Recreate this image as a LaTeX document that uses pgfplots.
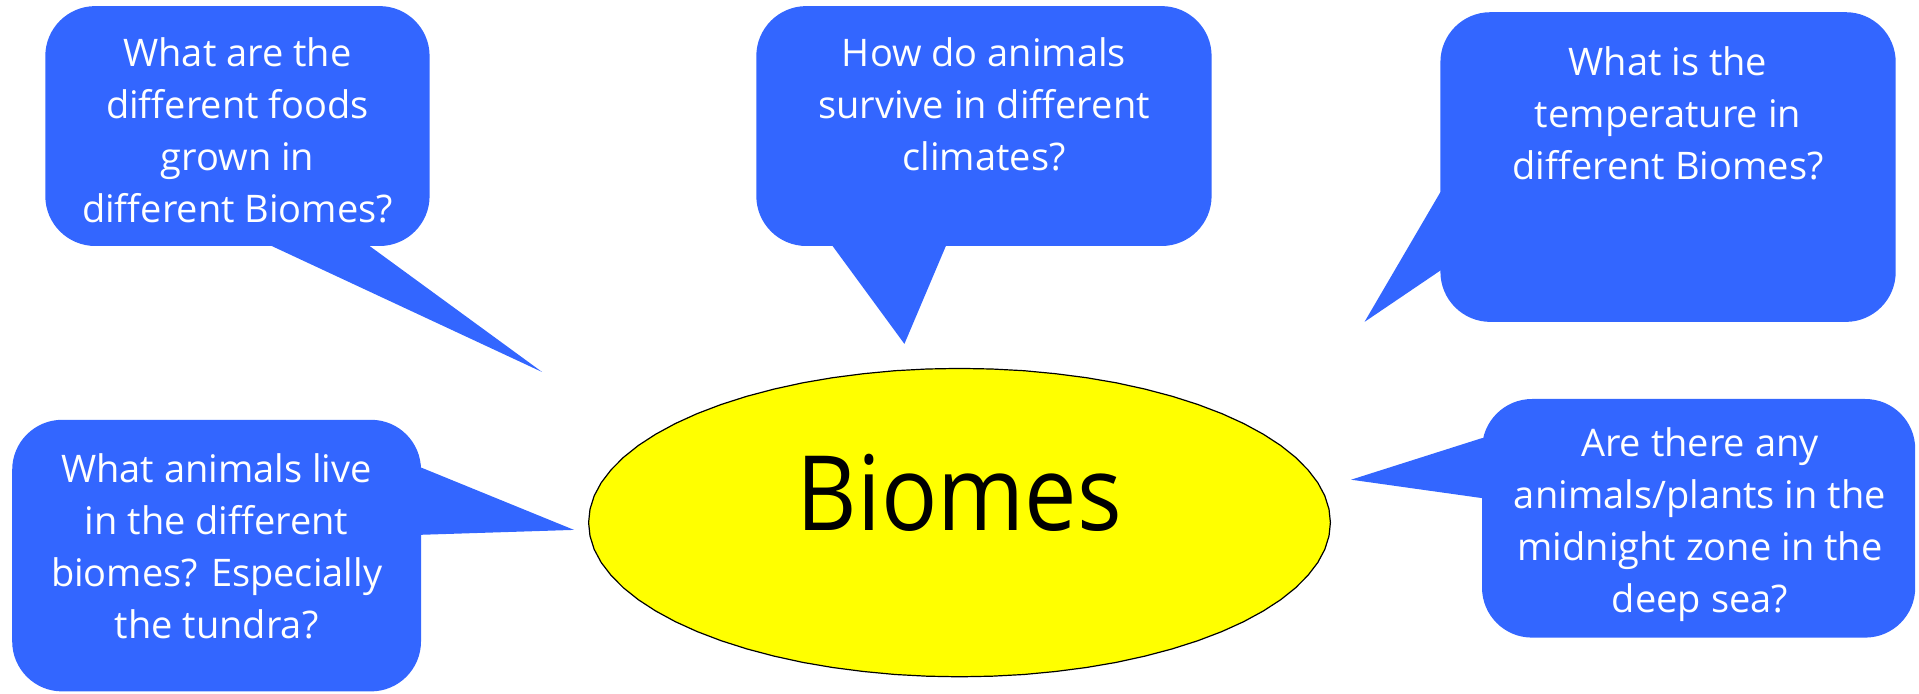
\documentclass[border=0pt]{standalone}
\usepackage{pgfplots}
\pgfplotsset{compat=1.18}
\usepackage{fontspec}
\setmainfont{Open Sans}
\definecolor{bub}{HTML}{3366FF}
\definecolor{ell}{HTML}{FFFF00}
\begin{document}
\begin{tikzpicture}
\begin{axis}[scale only axis, width=959.5pt, height=347pt,
  xmin=0, xmax=1919, ymin=0, ymax=694, y dir=reverse, hide axis, clip=false]
% invisible frame to fix the bounding box
\addplot[draw=none, no markers] coordinates {(0,0) (1919,0) (1919,694) (0,694)} -- cycle;
% bubble 1 top-left
\addplot[draw=none, fill=bub, no markers, rounded corners=25pt] coordinates {(237,6.1) (429.6,6.1) (429.6,246) (45.3,246) (45.3,6.1)} -- cycle;
\addplot[draw=none, fill=bub, no markers] coordinates {(268.5,244.5) (542.1,372) (367.5,244.5)} -- cycle;
% bubble 2 top-middle
\addplot[draw=none, fill=bub, no markers, rounded corners=25pt] coordinates {(984,6.1) (1211.6,6.1) (1211.6,246) (756.3,246) (756.3,6.1)} -- cycle;
\addplot[draw=none, fill=bub, no markers] coordinates {(831.5,244.5) (904.4,343.9) (946.5,244.5)} -- cycle;
% bubble 3 top-right
\addplot[draw=none, fill=bub, no markers, rounded corners=25pt] coordinates {(1668,12.2) (1895.7,12.2) (1895.7,321.9) (1440.4,321.9) (1440.4,12.2)} -- cycle;
\addplot[draw=none, fill=bub, no markers] coordinates {(1455,192.1) (1440.4,192.1) (1364.5,321.9) (1440.4,270.5) (1455,270.5)} -- cycle;
% bubble 4 bottom-left
\addplot[draw=none, fill=bub, no markers, rounded corners=25pt] coordinates {(216,419.8) (421,419.8) (421,691.4) (12.2,691.4) (12.2,419.8)} -- cycle;
\addplot[draw=none, fill=bub, no markers] coordinates {(405,467.5) (421,467.5) (574,529.9) (421,534.8) (405,534.8)} -- cycle;
% bubble 5 bottom-right
\addplot[draw=none, fill=bub, no markers, rounded corners=25pt] coordinates {(1700,399) (1915.2,399) (1915.2,637.6) (1482,637.6) (1482,399)} -- cycle;
\addplot[draw=none, fill=bub, no markers] coordinates {(1497,438.1) (1482,438.1) (1351.1,479.7) (1482,498.1) (1497,498.1)} -- cycle;
% ellipse
\addplot[draw=black, line width=0.6pt, fill=ell, no markers] coordinates {
(1330.4,522.6) (1329.0,536.0) (1324.8,549.4) (1317.8,562.5) (1308.0,575.3) (1295.6,587.8) (1280.7,599.7) (1263.3,611.0) (1243.6,621.7) (1221.8,631.6) (1197.9,640.7) (1172.2,648.9) (1145.0,656.1) (1116.2,662.4) (1086.4,667.5) (1055.5,671.5) (1023.9,674.5) (991.8,676.2) (959.5,676.8)
(927.2,676.2) (895.1,674.5) (863.5,671.5) (832.6,667.5) (802.8,662.4) (774.0,656.1) (746.8,648.9) (721.1,640.7) (697.2,631.6) (675.4,621.7) (655.7,611.0) (638.3,599.7) (623.4,587.8) (611.0,575.3) (601.2,562.5) (594.2,549.4) (590.0,536.0) (588.6,522.6)
(590.0,509.2) (594.2,495.8) (601.2,482.7) (611.0,469.9) (623.4,457.4) (638.3,445.5) (655.7,434.2) (675.4,423.5) (697.2,413.6) (721.1,404.5) (746.8,396.3) (774.0,389.1) (802.8,382.8) (832.6,377.7) (863.5,373.7) (895.1,370.7) (927.2,369.0) (959.5,368.4)
(991.8,369.0) (1023.9,370.7) (1055.5,373.7) (1086.4,377.7) (1116.2,382.8) (1145.0,389.1) (1172.2,396.3) (1197.9,404.5) (1221.8,413.6) (1243.6,423.5) (1263.3,434.2) (1280.7,445.5) (1295.6,457.4) (1308.0,469.9) (1317.8,482.7) (1324.8,495.8) (1329.0,509.2)} -- cycle;
% texts
\node[text=white, align=center, font=\fontsize{19}{26}\selectfont] at (axis cs:237.5,130.5) {What are the\\different foods\\grown in\\different Biomes?};
\node[text=white, align=center, font=\fontsize{19}{26}\selectfont] at (axis cs:984,104.5) {How do animals\\survive in different\\climates?};
\node[text=white, align=center, font=\fontsize{19}{26}\selectfont] at (axis cs:1668,113.5) {What is the\\temperature in\\different Biomes?};
\node[text=white, align=center, font=\fontsize{19}{26}\selectfont] at (axis cs:216.6,546.5) {What animals live\\in the different\\biomes? Especially\\the tundra?};
\node[text=white, align=center, font=\fontsize{19}{26}\selectfont] at (axis cs:1699.9,524.5) {Are there any\\animals/plants in the\\midnight zone in the\\deep sea?};
\node[text=black, font=\fontsize{52}{60}\selectfont, xscale=0.9] at (axis cs:959.5,493) {Biomes};
\end{axis}
\end{tikzpicture}
\end{document}
